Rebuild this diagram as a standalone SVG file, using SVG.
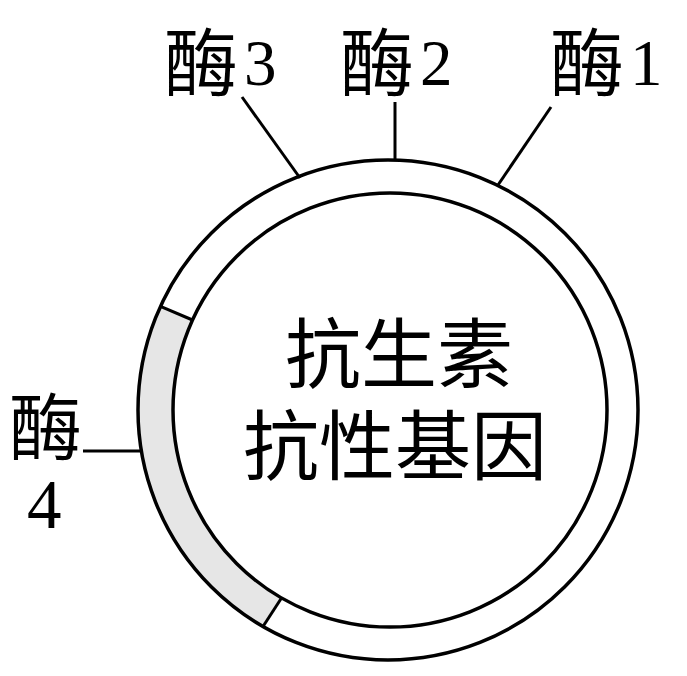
<svg xmlns="http://www.w3.org/2000/svg" width="687" height="676" viewBox="0 0 687 676">
  <style>
    .cjk { font-family: "Noto Sans CJK SC", sans-serif; fill: #000; }
    .num { font-family: "Liberation Serif", serif; fill: #000; }
    .ln { stroke: #000; stroke-width: 3; fill: none; }
    .ring { stroke: #000; stroke-width: 3.5; fill: none; }
  </style>
  <rect width="687" height="676" fill="#fff"/>
  <g id="plasmid">
    <circle cx="388" cy="410" r="250" fill="#fff" stroke="none"/>
    <path d="M160.5 306.3 A250 250 0 0 0 263 626.5 L281.5 598 A217 217 0 0 1 192.5 320 Z" fill="#e6e6e6" stroke="none"/>
    <circle class="ring" cx="388" cy="410" r="250"/>
    <circle class="ring" cx="390" cy="410" r="217"/>
    <line class="ln" x1="160.5" y1="306.3" x2="192.5" y2="320"/>
    <line class="ln" x1="263" y1="626.5" x2="281.5" y2="598"/>
  </g>
  <g id="center-label">
    <text class="cjk" font-size="76" x="399" y="382" text-anchor="middle">抗生素</text>
    <text class="cjk" font-size="76" x="395" y="474" text-anchor="middle">抗性基因</text>
  </g>
  <g id="connectors">
    <line class="ln" x1="242" y1="97" x2="300" y2="178"/>
    <line class="ln" x1="395" y1="102" x2="395" y2="161"/>
    <line class="ln" x1="551" y1="107" x2="498" y2="185"/>
    <line class="ln" x1="83" y1="451" x2="141" y2="451"/>
  </g>
  <g id="enzyme3">
    <text class="cjk" font-size="74" x="164" y="90">酶</text>
    <text class="num" font-size="65" x="244" y="85">3</text>
  </g>
  <g id="enzyme2">
    <text class="cjk" font-size="74" x="340" y="90">酶</text>
    <text class="num" font-size="65" x="420" y="85">2</text>
  </g>
  <g id="enzyme1">
    <text class="cjk" font-size="74" x="550" y="90">酶</text>
    <text class="num" font-size="65" x="630" y="85">1</text>
  </g>
  <g id="enzyme4">
    <text class="cjk" font-size="73" x="9" y="454">酶</text>
    <text class="num" font-size="69" x="27" y="528">4</text>
  </g>
</svg>
